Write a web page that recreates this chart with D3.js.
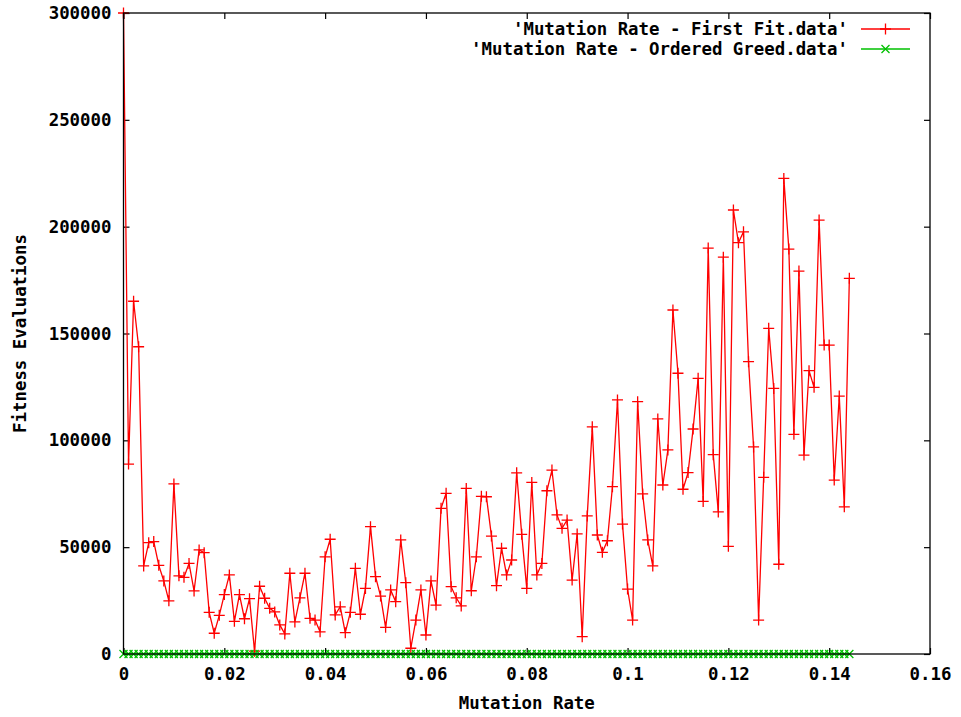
<!DOCTYPE html>
<html><head><meta charset="utf-8">
<script src="https://cdn.jsdelivr.net/npm/d3@7"></script>
<style>
html,body{margin:0;padding:0;background:#fff;}
text{font-family:"DejaVu Sans Mono","Liberation Mono",monospace;font-weight:bold;font-size:17.4px;fill:#000;}
</style></head>
<body><svg id="chart" width="961" height="717"></svg>
<script>
const mutationRates = [
0.000,0.001,0.002,0.003,0.004,0.005,0.006,0.007,0.008,0.009,
0.010,0.011,0.012,0.013,0.014,0.015,0.016,0.017,0.018,0.019,
0.020,0.021,0.022,0.023,0.024,0.025,0.026,0.027,0.028,0.029,
0.030,0.031,0.032,0.033,0.034,0.035,0.036,0.037,0.038,0.039,
0.040,0.041,0.042,0.043,0.044,0.045,0.046,0.047,0.048,0.049,
0.050,0.051,0.052,0.053,0.054,0.055,0.056,0.057,0.058,0.059,
0.060,0.061,0.062,0.063,0.064,0.065,0.066,0.067,0.068,0.069,
0.070,0.071,0.072,0.073,0.074,0.075,0.076,0.077,0.078,0.079,
0.080,0.081,0.082,0.083,0.084,0.085,0.086,0.087,0.088,0.089,
0.090,0.091,0.092,0.093,0.094,0.095,0.096,0.097,0.098,0.099,
0.100,0.101,0.102,0.103,0.104,0.105,0.106,0.107,0.108,0.109,
0.110,0.111,0.112,0.113,0.114,0.115,0.116,0.117,0.118,0.119,
0.120,0.121,0.122,0.123,0.124,0.125,0.126,0.127,0.128,0.129,
0.130,0.131,0.132,0.133,0.134,0.135,0.136,0.137,0.138,0.139,
0.140,0.141,0.142,0.143,0.144];

const firstFit = [
300000,88900,165100,143800,41200,52100,52600,41500,34200,24900,
79600,36600,35900,42400,29500,48700,47400,19500,9700,18100,
27800,37000,15300,27800,16500,25900,1300,31700,26100,21400,
19700,13600,9400,37800,15000,26300,37800,16700,15900,10400,
45500,53700,18300,22100,10000,19500,40100,18600,30700,59600,
36200,27100,12500,30000,24500,53400,33400,2700,15900,30000,
8900,34200,22900,68200,75200,31500,26300,22500,77500,29600,
45500,73800,73600,55200,32000,49500,37000,44000,84800,56000,
30700,80300,37000,42400,76400,86100,65100,58800,62700,34600,
56200,8100,64600,106300,55700,47600,53000,78300,118900,60800,
30400,15900,118100,74900,53400,41200,110000,79100,95500,161000,
131400,77100,84900,105300,129000,71400,190000,93300,66500,185700,
50400,207800,192500,197600,136800,96900,15900,82700,152400,124300,
42000,222600,189500,102800,179200,93100,132600,124800,203100,144600,
144600,81400,120700,68900,175800];

const orderedGreed = [
0,0,0,0,0,0,0,0,0,0, 0,0,0,0,0,0,0,0,0,0,
0,0,0,0,0,0,0,0,0,0, 0,0,0,0,0,0,0,0,0,0,
0,0,0,0,0,0,0,0,0,0, 0,0,0,0,0,0,0,0,0,0,
0,0,0,0,0,0,0,0,0,0, 0,0,0,0,0,0,0,0,0,0,
0,0,0,0,0,0,0,0,0,0, 0,0,0,0,0,0,0,0,0,0,
0,0,0,0,0,0,0,0,0,0, 0,0,0,0,0,0,0,0,0,0,
0,0,0,0,0,0,0,0,0,0, 0,0,0,0,0,0,0,0,0,0,
0,0,0,0,0];

const xTickValues = [0,0.02,0.04,0.06,0.08,0.1,0.12,0.14,0.16];
const xTickLabels = ["0","0.02","0.04","0.06","0.08","0.1","0.12","0.14","0.16"];
const yTickValues = [0,50000,100000,150000,200000,250000,300000];
const yTickLabels = ["0","50000","100000","150000","200000","250000","300000"];
const seriesNames = ["'Mutation Rate - First Fit.data'","'Mutation Rate - Ordered Greed.data'"];
const seriesColors = ["#ff0000","#00c000"];

const L=123.5, R=930, T=13, B=654;
const svg = d3.select("#chart");
svg.append("rect").attr("width",961).attr("height",717).attr("fill","#fff");
const x = d3.scaleLinear().domain([0,0.16]).range([L,R]);
const y = d3.scaleLinear().domain([0,300000]).range([B,T]);

const tk = 6;
const fontSize = "17.4px";
const axB = d3.axisBottom(x).tickValues(xTickValues).tickSize(-tk).tickFormat((d,i)=>xTickLabels[i]).tickPadding(14);
const gB = svg.append("g").attr("transform",`translate(0,${B})`).call(axB);
const axT = d3.axisTop(x).tickValues(xTickValues).tickSize(-tk).tickFormat("");
const gT = svg.append("g").attr("transform",`translate(0,${T})`).call(axT);
const axL = d3.axisLeft(y).tickValues(yTickValues).tickSize(-tk).tickFormat((d,i)=>yTickLabels[i]).tickPadding(12);
const gL = svg.append("g").attr("transform",`translate(${L},0)`).call(axL);
const axR = d3.axisRight(y).tickValues(yTickValues).tickSize(-tk).tickFormat("");
const gR = svg.append("g").attr("transform",`translate(${R},0)`).call(axR);
[gB,gT,gL,gR].forEach(g=>{
  g.select(".domain").remove();
  g.selectAll(".tick line").attr("stroke","#000").attr("stroke-width",1.2);
  g.selectAll("text").style("font-family",'"DejaVu Sans Mono",monospace').style("font-weight","bold").style("font-size",fontSize).attr("fill","#000");
});
gB.selectAll("text").attr("dy","0.71em");

const ffData = mutationRates.map((r,i)=>[r,firstFit[i]]);
const ogData = mutationRates.map((r,i)=>[r,orderedGreed[i]]);
const line = d3.line().x(d=>x(d[0])).y(d=>y(d[1]));

function plus(g, cx, cy, s, c){
  g.append("path").attr("d",`M${cx-s},${cy}H${cx+s}M${cx},${cy-s}V${cy+s}`).attr("stroke",c).attr("stroke-width",1.3).attr("fill","none");
}
function cross(g, cx, cy, s, c){
  g.append("path").attr("d",`M${cx-s},${cy-s}L${cx+s},${cy+s}M${cx-s},${cy+s}L${cx+s},${cy-s}`).attr("stroke",c).attr("stroke-width",1.3).attr("fill","none");
}

const gFF = svg.append("g");
gFF.append("path").datum(ffData).attr("d",line).attr("fill","none").attr("stroke",seriesColors[0]).attr("stroke-width",1.3);
ffData.forEach(d=>plus(gFF,x(d[0]),y(d[1]),5.5,seriesColors[0]));

const gOG = svg.append("g");
gOG.append("path").datum(ogData).attr("d",line).attr("fill","none").attr("stroke",seriesColors[1]).attr("stroke-width",1.3);
ogData.forEach(d=>cross(gOG,x(d[0]),y(d[1]),4,seriesColors[1]));

svg.append("rect").attr("x",L).attr("y",T).attr("width",R-L).attr("height",B-T)
  .attr("fill","none").attr("stroke","#000").attr("stroke-width",1.3);

svg.append("text").attr("x",(L+R)/2).attr("y",709).attr("text-anchor","middle").text("Mutation Rate");
svg.append("text").attr("transform",`translate(26,${(T+B)/2}) rotate(-90)`).attr("text-anchor","middle").text("Fitness Evaluations");

const legY = [29,49];
seriesNames.forEach((n,i)=>{
  svg.append("text").attr("x",848).attr("y",legY[i]).attr("dy","0.35em").attr("text-anchor","end").text(n);
  svg.append("line").attr("x1",861).attr("x2",910).attr("y1",legY[i]).attr("y2",legY[i]).attr("stroke",seriesColors[i]).attr("stroke-width",1.3);
  if(i===0) plus(svg,885.5,legY[i],5.5,seriesColors[i]); else cross(svg,885.5,legY[i],4,seriesColors[i]);
});
</script></body></html>
